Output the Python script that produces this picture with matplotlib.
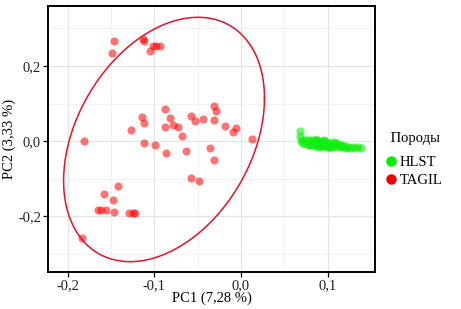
import numpy as np
import matplotlib
matplotlib.use("Agg")
import matplotlib.pyplot as plt
from matplotlib.lines import Line2D

# TAGIL (red) scores
tagil_x = [-0.146, -0.149, -0.113, -0.112, -0.105, -0.101, -0.098, -0.094,
           -0.181,
           -0.088, -0.114, -0.112, -0.127, -0.0815, -0.088, -0.078, -0.073, -0.068,
           -0.058, -0.053, -0.044, -0.0315, -0.029, -0.0315, -0.0185, -0.0058, -0.0092,
           0.0127, -0.112, -0.099, -0.086, -0.063, -0.036, -0.031, -0.058, -0.049,
           -0.142, -0.158, -0.148, -0.165, -0.161, -0.156, -0.147, -0.129, -0.125,
           -0.122, -0.184]
tagil_y = [0.267, 0.233, 0.271, 0.267, 0.239, 0.252, 0.253, 0.252,
           0.001,
           0.086, 0.064, 0.049, 0.030, 0.061, 0.038, 0.044, 0.038, 0.015,
           0.068, 0.053, 0.058, 0.094, 0.080, 0.055, 0.041, 0.035, 0.024,
           0.007, -0.006, -0.011, -0.032, -0.027, -0.018, -0.049, -0.099, -0.105,
           -0.119, -0.141, -0.156, -0.184, -0.184, -0.184, -0.189, -0.192, -0.190,
           -0.190, -0.257]

# HLST (green) scores
hlst_x = [0.068, 0.068, 0.069, 0.070, 0.072, 0.073, 0.075, 0.076, 0.078, 0.079,
          0.080, 0.082, 0.083, 0.084, 0.085, 0.086, 0.087, 0.088, 0.089, 0.090,
          0.091, 0.092, 0.093, 0.094, 0.095, 0.096, 0.097, 0.098, 0.099, 0.100,
          0.101, 0.102, 0.103, 0.105, 0.106, 0.108, 0.110, 0.112, 0.114, 0.116,
          0.118, 0.120, 0.123, 0.126, 0.129, 0.132, 0.135, 0.138, 0.090, 0.096,
          0.104, 0.110, 0.085, 0.100, 0.078, 0.088, 0.094, 0.107, 0.115, 0.121]
hlst_y = [0.027, 0.015, 0.003, -0.004, 0.004, -0.006, 0.002, -0.008, 0.003, -0.009,
          -0.002, 0.004, -0.010, -0.003, -0.012, 0.002, -0.007, -0.011, 0.000, -0.013,
          -0.005, 0.001, -0.011, -0.003, -0.014, -0.007, 0.000, -0.012, -0.005, -0.015,
          -0.004, -0.009, -0.014, -0.006, -0.015, -0.009, -0.013, -0.008, -0.016, -0.010,
          -0.016, -0.012, -0.015, -0.017, -0.015, -0.018, -0.016, -0.019, -0.015, 0.002,
          -0.016, -0.004, 0.003, -0.016, -0.010, 0.003, -0.013, -0.002, -0.013, -0.019]

groups = ["HLST", "TAGIL"]
legend_title = "Породы"
x_label = "PC1 (7,28 %)"
y_label = "PC2 (3,33 %)"
x_ticks = [-0.2, -0.1, 0.0, 0.1]
x_ticklabels = ["-0,2", "-0,1", "0,0", "0,1"]
y_ticks = [-0.2, 0.0, 0.2]
y_ticklabels = ["-0,2", "0,0", "0,2"]

# 95% ellipse for TAGIL (centre and covariance-like matrix)
ellipse_center = (-0.0888, 0.0045)
ellipse_sxx = 0.01343
ellipse_syy = 0.1053
ellipse_sxy = 0.01272

plt.rcParams['font.family'] = ['Liberation Serif', 'DejaVu Serif']

fig = plt.figure(figsize=(4.61, 3.09), dpi=100)
ax = fig.add_axes([0.1041, 0.1197, 0.8134 - 0.1041, 0.9806 - 0.1197])

ax.set_xlim(-0.2227, 0.1546)
ax.set_ylim(-0.3475, 0.359)

# grid
ax.set_xticks(x_ticks)
ax.set_yticks(y_ticks)
ax.set_xticks([-0.15, -0.05, 0.05, 0.15], minor=True)
ax.set_yticks([-0.3, -0.1, 0.1, 0.3], minor=True)
ax.grid(True, which='major', color='#e4e4e4', lw=0.9, zorder=0)
ax.grid(True, which='minor', color='#efefef', lw=0.6, zorder=0)
ax.set_axisbelow(True)
ax.tick_params(which='minor', length=0)
ax.tick_params(which='major', length=3.5, width=0.9, color='black',
               labelsize=10.5, labelcolor='#222222', pad=1.5)
ax.set_xticklabels(x_ticklabels)
ax.set_yticklabels(y_ticklabels)
for s in ax.spines.values():
    s.set_color('black')
    s.set_linewidth(1.4)

red = '#ff0000'
green = '#00ee00'
ax.scatter(hlst_x, hlst_y, s=36, color='#11ee11', alpha=0.6, linewidths=0, zorder=3)
ax.scatter(tagil_x, tagil_y, s=34, color=red, alpha=0.55, linewidths=0, zorder=3)

M = np.array([[ellipse_sxx, ellipse_sxy], [ellipse_sxy, ellipse_syy]])
L = np.linalg.cholesky(M)
t = np.linspace(0, 2 * np.pi, 300)
circ = np.vstack([np.cos(t), np.sin(t)])
ell = np.array(ellipse_center)[:, None] + L @ circ
ax.plot(ell[0], ell[1], color='#e8102a', lw=1.1, zorder=4)

ax.set_xlabel(x_label, fontsize=10.5, labelpad=0)
ax.set_ylabel(y_label, fontsize=10.5, labelpad=1.5)

handles = [Line2D([], [], marker='o', ls='', color=green, markersize=6.5),
           Line2D([], [], marker='o', ls='', color='#ee0000', markersize=6.5)]
leg = fig.legend(handles, groups, title=" " + legend_title, loc='center left',
                 bbox_to_anchor=(0.826, 0.483), frameon=False, fontsize=10.5,
                 title_fontsize=10.5, handletextpad=0.3, handlelength=0.6,
                 labelspacing=0.33, borderaxespad=0)
leg._legend_box.align = "left"
leg._legend_box.sep = 8

fig.savefig("out.png", dpi=100)
